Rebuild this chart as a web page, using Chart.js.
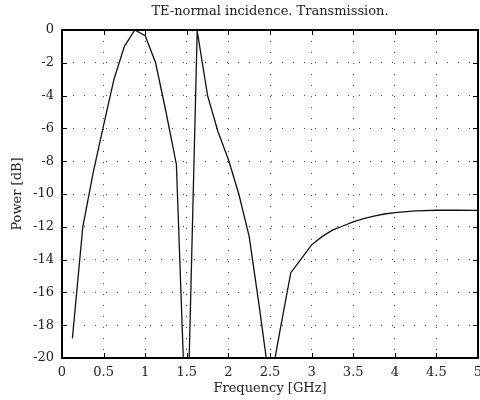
<!DOCTYPE html>
<html>
<head>
<meta charset="utf-8">
<script src="https://cdn.jsdelivr.net/npm/chart.js@4/dist/chart.umd.min.js"></script>
<style>
  html, body { margin: 0; padding: 0; background: #fff; }
  #wrap { width: 480px; height: 400px; }
</style>
</head>
<body>
<div id="wrap"><canvas id="powerChart" width="480" height="400"></canvas></div>
<script>
// frequency samples [GHz] and transmitted power [dB]
const freqGHz = [0.125, 0.25, 0.375, 0.5, 0.625, 0.75, 0.875, 1.0, 1.125, 1.25, 1.375, 1.5,
                 1.625, 1.75, 1.875, 2.0, 2.125, 2.25, 2.375, 2.5, 2.625, 2.75, 2.875, 3.0,
                 3.125, 3.25, 3.375, 3.5, 3.625, 3.75, 3.875, 4.0, 4.25, 4.5, 4.75, 5.0];
const powerDb = [-18.8, -12.0, -8.7, -5.8, -3.0, -1.0, 0.0, -0.35, -2.0, -5.0, -8.2, -26.0,
                 -0.05, -4.0, -6.2, -7.9, -10.0, -12.6, -17.0, -21.7, -18.2, -14.8, -13.95, -13.1,
                 -12.6, -12.2, -11.95, -11.7, -11.5, -11.35, -11.22, -11.13, -11.03, -10.99, -10.98, -11.0];
const xTicks = [0, 0.5, 1, 1.5, 2, 2.5, 3, 3.5, 4, 4.5, 5];
const yTicks = [0, -2, -4, -6, -8, -10, -12, -14, -16, -18, -20];

const serif = "'DejaVu Serif', 'Liberation Serif', serif";

// box round the plot plus the little inward tick marks
const frameTicks = {
    id: 'frameTicks',
    afterDraw(chart) {
        const { ctx, chartArea: a, scales } = chart;
        ctx.save();
        ctx.strokeStyle = '#000';
        ctx.lineWidth = 1;
        const len = 5;
        ctx.beginPath();
        xTicks.forEach(v => {
            const px = Math.round(scales.x.getPixelForValue(v)) + 0.5;
            ctx.moveTo(px, a.bottom); ctx.lineTo(px, a.bottom - len);
            ctx.moveTo(px, a.top); ctx.lineTo(px, a.top + len);
        });
        yTicks.forEach(v => {
            const py = Math.round(scales.y.getPixelForValue(v)) + 0.5;
            ctx.moveTo(a.left, py); ctx.lineTo(a.left + len, py);
            ctx.moveTo(a.right, py); ctx.lineTo(a.right - len, py);
        });
        ctx.stroke();
        ctx.lineWidth = 2;
        ctx.strokeRect(a.left, a.top, a.right - a.left, a.bottom - a.top);
        ctx.restore();
    }
};

document.addEventListener('DOMContentLoaded', function() {
    const ctx = document.getElementById('powerChart').getContext('2d');
    new Chart(ctx, {
        type: 'line',
        data: {
            datasets: [{
                data: freqGHz.map((f, i) => ({ x: f, y: powerDb[i] })),
                borderColor: '#111',
                borderWidth: 1.3,
                pointRadius: 0,
                tension: 0,
                fill: false
            }]
        },
        options: {
            responsive: false,
            animation: false,
            layout: { padding: { left: 0, right: 2, top: 0, bottom: 0 } },
            plugins: {
                legend: { display: false },
                tooltip: { enabled: false },
                title: {
                    display: true,
                    text: 'TE-normal incidence. Transmission.',
                    color: '#222',
                    fullSize: false,
                    font: { family: serif, size: 13, weight: 'normal' },
                    padding: { top: 4, bottom: 10.4 }
                }
            },
            scales: {
                x: {
                    type: 'linear',
                    min: 0, max: 5,
                    afterBuildTicks: s => { s.ticks = xTicks.map(v => ({ value: v })); },
                    afterFit: s => { s.height = 42; s.paddingLeft = 0; s.paddingRight = 0; },
                    ticks: { color: '#222', font: { family: serif, size: 13 }, padding: 7, maxRotation: 0,
                             callback: v => String(v) },
                    grid: { color: '#444', lineWidth: 1, drawTicks: false },
                    border: { display: false, dash: [1, 10] },
                    title: { display: true, text: 'Frequency [GHz]', color: '#222', font: { family: serif, size: 13 }, padding: { top: 2, bottom: 4 } }
                },
                y: {
                    min: -20, max: 0,
                    afterBuildTicks: s => { s.ticks = yTicks.map(v => ({ value: v })); },
                    afterFit: s => { s.width = 62; },
                    ticks: { color: '#222', font: { family: serif, size: 13 }, padding: 8 },
                    grid: { color: '#444', lineWidth: 1, drawTicks: false },
                    border: { display: false, dash: [1, 10] },
                    title: { display: true, text: 'Power [dB]', color: '#222', font: { family: serif, size: 13 }, padding: { top: 10, bottom: 4 } }
                }
            }
        },
        plugins: [frameTicks]
    });
});
</script>
</body>
</html>
